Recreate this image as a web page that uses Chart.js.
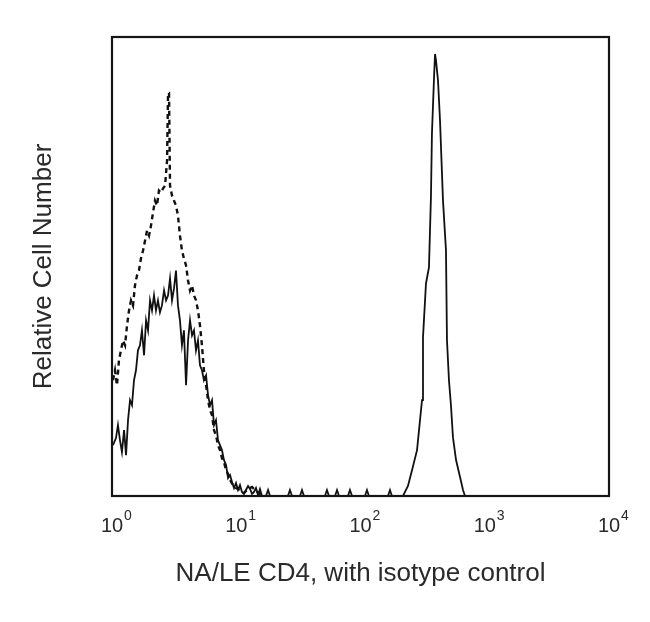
<!DOCTYPE html>
<html>
<head>
<meta charset="utf-8">
<title>NA/LE CD4 histogram</title>
<script src="https://cdn.jsdelivr.net/npm/chart.js@4.4.1/dist/chart.umd.min.js"></script>
<style>
    body { margin: 0; background: #fff; }
    #wrap { width: 650px; height: 622px; }
</style>
</head>
<body>
<div id="wrap"><canvas id="histogram" width="650" height="622"></canvas></div>
<script>
// Channel positions are in decades (log10 of fluorescence), counts are relative
// Stained sample (solid line)
const cd4Channel = [
    0.008, 0.032, 0.048, 0.064, 0.080, 0.097, 0.113, 0.129, 0.145, 0.161,
    0.177, 0.193, 0.209, 0.225, 0.241, 0.258, 0.274, 0.290, 0.306, 0.322,
    0.338, 0.354, 0.370, 0.386, 0.402, 0.419, 0.435, 0.451, 0.467, 0.483,
    0.499, 0.515, 0.531, 0.547, 0.563, 0.579, 0.596, 0.612, 0.628, 0.644,
    0.660, 0.676, 0.692, 0.708, 0.724, 0.740, 0.757, 0.773, 0.789, 0.805,
    0.821, 0.837, 0.853, 0.869, 0.885, 0.901, 0.918, 0.934, 0.950, 0.966,
    0.982, 0.998, 1.014, 1.030, 1.046, 1.062, 1.078, 1.095, 1.111, 1.127,
    1.143, 1.159, 1.175, 1.191, 1.207, 1.239, 1.256, 1.272, 1.416, 1.432,
    1.449, 1.513, 1.529, 1.545, 1.714, 1.730, 1.746, 1.795, 1.811, 1.827,
    1.899, 1.915, 1.932, 2.036, 2.052, 2.068, 2.221, 2.237, 2.253, 2.342,
    2.382, 2.415, 2.455, 2.479, 2.495, 2.503, 2.527, 2.551, 2.567, 2.575,
    2.592, 2.600, 2.608, 2.624, 2.640, 2.664, 2.688, 2.696, 2.712, 2.728,
    2.744, 2.769, 2.801, 2.825, 2.841
];
const cd4Count = [
    51, 58, 71, 56, 44, 66, 41, 76, 96, 91,
    116, 126, 146, 151, 166, 141, 176, 166, 196, 186,
    201, 186, 196, 184, 191, 206, 196, 201, 218, 196,
    208, 226, 191, 176, 151, 166, 111, 156, 176, 161,
    166, 146, 156, 131, 126, 116, 121, 101, 91, 96,
    71, 76, 56, 51, 46, 36, 31, 18, 21, 14,
    8, 13, 6, 11, 4, 2, 6, 10, 7, 2,
    4, 8, 1, 7, 0, 0, 6, 0, 0, 6,
    0, 0, 6, 0, 0, 6, 0, 0, 6, 0,
    0, 6, 0, 0, 6, 0, 0, 6, 0, 0,
    10, 26, 46, 76, 96, 159, 213, 229, 300, 363,
    420, 443, 436, 416, 376, 296, 246, 156, 116, 91,
    59, 36, 19, 6, 0
];

// Isotype control (dashed line)
const isoChannel = [
    0.008, 0.024, 0.040, 0.056, 0.072, 0.089, 0.105, 0.121, 0.137, 0.153,
    0.169, 0.185, 0.201, 0.217, 0.233, 0.250, 0.266, 0.282, 0.298, 0.314,
    0.330, 0.346, 0.362, 0.378, 0.394, 0.410, 0.427, 0.443, 0.451, 0.459,
    0.467, 0.483, 0.499, 0.515, 0.531, 0.547, 0.563, 0.579, 0.596, 0.612,
    0.628, 0.644, 0.660, 0.676, 0.692, 0.708, 0.724, 0.740, 0.757, 0.773,
    0.789, 0.805, 0.821, 0.837, 0.853, 0.869, 0.885, 0.901, 0.918, 0.934,
    0.950, 0.974, 0.998, 1.030, 1.062, 1.095, 1.127, 1.159, 1.191, 1.231
];
const isoCount = [
    116, 126, 111, 136, 146, 156, 151, 171, 186, 196,
    191, 211, 221, 226, 238, 246, 256, 266, 261, 271,
    284, 296, 291, 306, 304, 308, 311, 336, 404, 404,
    311, 301, 296, 291, 281, 261, 246, 238, 231, 216,
    206, 211, 201, 196, 186, 171, 151, 126, 111, 96,
    86, 81, 66, 61, 51, 46, 38, 34, 26, 22,
    16, 11, 8, 6, 3, 7, 9, 5, 2, 0
];

// Axis ticks: base 10 with the decade as exponent
const tickExponents = [0, 1, 2, 3, 4];
const tickBase = '10';

function toPoints(xs, ys) {
    return xs.map((x, i) => ({ x: x, y: ys[i] }));
}

// Box around the plot area
const framePlugin = {
    id: 'frame',
    afterDatasetsDraw(chart) {
        const { ctx, chartArea } = chart;
        ctx.save();
        ctx.strokeStyle = '#151515';
        ctx.lineWidth = 2.2;
        ctx.strokeRect(chartArea.left, chartArea.top,
            chartArea.right - chartArea.left, chartArea.bottom - chartArea.top);
        ctx.restore();
    }
};

// Raised exponent next to each "10" tick label
const exponentPlugin = {
    id: 'exponents',
    afterDraw(chart) {
        const { ctx } = chart;
        const xScale = chart.scales.x;
        ctx.save();
        ctx.font = "20px 'Liberation Sans', Arial, sans-serif";
        const baseWidth = ctx.measureText(tickBase).width;
        ctx.font = "14px 'Liberation Sans', Arial, sans-serif";
        ctx.fillStyle = '#2a2a2a';
        ctx.textAlign = 'left';
        ctx.textBaseline = 'top';
        tickExponents.forEach(e => {
            const px = xScale.getPixelForValue(e);
            ctx.fillText(String(e), px + baseWidth / 2 + 1, xScale.top + 13);
        });
        ctx.restore();
    }
};

Chart.defaults.font.family = "'Liberation Sans', Arial, sans-serif";
Chart.defaults.color = '#2a2a2a';

const ctx = document.getElementById('histogram').getContext('2d');
new Chart(ctx, {
    type: 'line',
    data: {
        datasets: [
            {
                label: 'Isotype control',
                data: toPoints(isoChannel, isoCount),
                borderColor: '#111',
                borderWidth: 2.4,
                borderDash: [5, 4],
                pointRadius: 0,
                tension: 0,
                fill: false
            },
            {
                label: 'NA/LE CD4',
                data: toPoints(cd4Channel, cd4Count),
                borderColor: '#111',
                borderWidth: 1.8,
                pointRadius: 0,
                tension: 0,
                fill: false
            }
        ]
    },
    options: {
        responsive: false,
        animation: false,
        layout: {
            padding: { top: 37, right: 41, left: 0, bottom: 0 }
        },
        plugins: {
            legend: { display: false },
            tooltip: { enabled: false }
        },
        scales: {
            x: {
                type: 'linear',
                min: 0,
                max: 4,
                grid: { display: false, drawTicks: false },
                border: { display: false },
                ticks: {
                    stepSize: 1,
                    padding: 18,
                    maxRotation: 0,
                    autoSkip: false,
                    font: { size: 20 },
                    callback: function(value) {
                        return tickExponents.includes(value) ? tickBase : '';
                    }
                },
                title: {
                    display: true,
                    text: 'NA/LE CD4, with isotype control',
                    font: { size: 26 },
                    padding: { top: 0, bottom: 33 }
                },
                afterFit(scale) {
                    scale.height = 126;
                }
            },
            y: {
                min: 0,
                max: 460,
                grid: { display: false, drawTicks: false },
                border: { display: false },
                ticks: { display: false },
                title: {
                    display: true,
                    text: 'Relative Cell Number',
                    font: { size: 26 },
                    padding: { top: 28, bottom: 0 }
                },
                afterFit(scale) {
                    scale.width = 112;
                }
            }
        }
    },
    plugins: [framePlugin, exponentPlugin]
});
</script>
</body>
</html>
